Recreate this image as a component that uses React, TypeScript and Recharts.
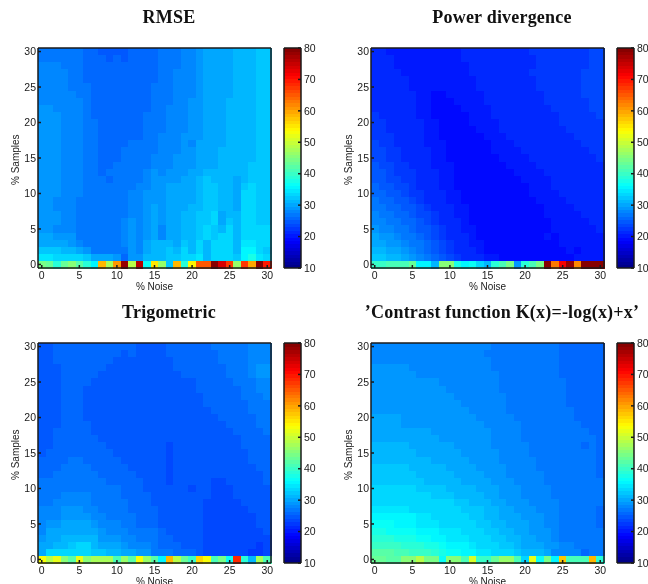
import { ScatterChart, Scatter, XAxis, YAxis } from "recharts";

const TICKS = [0, 5, 10, 15, 20, 25, 30];
const BAR_TICKS = [10, 20, 30, 40, 50, 60, 70, 80];
const FONT = "'Liberation Sans', Arial, sans-serif";
const INK = "#1a1a1a";

// one row per % Samples, from 30 down to 0; one value per % Noise, 0 to 30
const rmseRows = [
  [27,27,27,27,27,27,26,26,25,25,25,25,26,26,26,26,27,27,27,28,28,29,30,30,30,30,31,31,31,32,32],
  [27,27,27,27,27,27,26,26,26,25,26,25,26,26,26,26,27,27,27,28,28,29,30,30,30,30,31,31,31,32,32],
  [28,28,28,27,27,27,26,26,26,26,26,26,26,26,26,26,27,27,27,28,28,29,30,30,30,30,31,31,31,32,32],
  [28,28,28,28,27,27,26,26,26,26,26,26,26,26,26,26,27,27,28,28,28,29,30,30,30,30,31,31,31,32,32],
  [28,28,28,28,27,27,26,26,26,26,26,26,26,26,26,26,27,27,28,28,28,29,30,30,30,30,31,31,31,32,32],
  [28,28,28,28,27,27,27,26,26,26,26,26,26,26,26,27,27,27,28,28,28,29,30,30,30,30,31,31,31,32,32],
  [28,28,28,28,28,27,27,26,26,26,26,26,26,26,26,27,27,27,28,28,28,29,30,30,30,30,31,31,31,32,32],
  [28,28,28,28,28,28,27,26,26,26,26,26,26,26,26,27,27,27,28,28,29,29,30,30,30,31,31,31,31,32,32],
  [29,29,28,28,28,28,27,26,26,26,26,26,26,26,26,27,27,28,28,28,29,29,30,30,30,31,31,31,31,32,32],
  [29,29,29,28,28,28,27,26,26,26,26,26,26,26,27,27,27,28,28,28,29,29,30,30,30,31,31,31,31,32,32],
  [29,29,29,28,28,28,27,27,26,26,26,26,26,26,27,27,27,28,28,28,29,29,30,30,30,31,31,31,31,32,32],
  [29,29,29,28,28,28,27,27,26,26,26,26,26,26,27,27,27,28,28,28,29,29,30,30,30,31,31,31,31,32,32],
  [29,29,29,28,28,28,27,27,26,26,26,26,26,26,27,27,28,28,28,29,29,29,30,30,30,31,31,31,31,32,32],
  [29,29,29,28,28,28,27,27,26,26,26,26,27,27,27,27,28,28,28,29,28,30,30,30,30,31,31,31,31,32,32],
  [29,29,29,28,28,28,27,27,26,26,26,27,27,27,27,27,28,28,28,29,29,30,30,30,31,31,31,31,31,32,32],
  [29,29,29,28,28,28,27,27,26,26,26,27,27,27,27,28,28,28,29,29,29,30,30,30,31,31,31,31,31,32,32],
  [29,29,29,28,28,28,27,27,26,26,27,27,27,27,27,28,28,28,29,29,29,30,30,30,31,31,31,31,32,32,32],
  [29,29,29,28,28,28,27,27,26,27,27,27,27,27,28,29,28,29,29,29,30,30,31,31,31,31,31,31,32,32,32],
  [29,29,29,28,28,28,27,27,27,26,27,27,27,27,28,29,29,29,29,30,30,31,32,31,31,31,30,31,32,32,32],
  [29,29,29,28,28,28,27,27,27,27,27,27,27,28,28,29,29,30,30,30,30,31,32,32,31,31,30,32,33,32,32],
  [29,29,29,28,28,28,27,27,27,27,27,27,28,28,29,29,29,30,30,30,30,31,32,32,31,31,30,33,33,32,32],
  [29,29,28,28,28,27,27,27,27,27,27,27,28,28,29,29,29,30,30,30,30,31,32,32,31,31,30,33,33,32,32],
  [29,29,28,28,28,27,27,27,27,27,27,27,28,28,29,30,29,30,30,30,31,31,32,32,31,31,30,33,33,32,32],
  [29,29,29,28,28,27,27,27,27,27,27,27,28,28,29,30,29,30,30,31,31,32,32,33,30,31,31,33,33,32,32],
  [29,29,29,28,28,27,27,27,27,27,27,28,29,28,29,30,29,30,30,31,31,32,32,33,30,32,31,33,33,32,32],
  [29,29,28,28,28,27,27,27,27,27,27,28,29,28,29,30,28,30,30,31,31,32,33,32,31,33,31,33,33,33,33],
  [30,30,29,29,29,27,27,27,27,27,27,28,29,28,29,30,28,30,30,31,31,32,33,32,33,33,31,33,33,33,33],
  [30,30,30,30,29,28,27,27,27,27,27,28,29,28,30,31,31,31,30,32,31,33,31,33,33,33,31,35,35,33,33],
  [32,32,32,31,31,30,29,27,27,27,27,27,29,28,30,31,31,32,31,33,31,34,31,34,34,34,31,36,36,34,32],
  [35,35,34,33,33,33,32,30,30,30,29,26,29,29,31,31,31,32,32,34,33,35,31,34,34,34,32,36,38,35,33],
  [44,43,39,43,45,42,39,36,59,48,61,78,49,76,37,55,47,32,59,39,54,65,65,79,74,67,47,67,60,80,70],
];

const powerRows = [
  [21,21,20,20,20,20,20,20,20,20,20,20,21,21,21,21,22,22,22,22,22,23,23,23,23,23,23,23,23,24,24],
  [21,21,21,20,20,20,20,20,20,20,20,20,21,21,21,21,22,22,22,22,22,22,23,23,23,23,23,23,23,24,24],
  [21,21,21,20,20,20,20,20,20,20,20,20,20,21,21,21,22,22,22,22,22,22,23,23,23,23,23,23,23,24,24],
  [21,21,21,21,20,20,20,20,20,20,20,20,20,21,21,21,21,22,22,22,22,23,23,23,23,23,23,23,24,24,24],
  [21,21,21,21,21,20,20,20,20,20,20,20,20,20,21,21,21,21,22,22,22,22,23,23,23,23,23,23,24,24,24],
  [22,22,21,21,21,20,20,20,20,20,20,20,20,20,21,21,21,21,22,22,22,22,23,23,23,23,23,23,24,24,24],
  [22,22,22,21,21,21,20,20,19,19,20,20,20,20,20,21,21,21,21,22,22,22,22,23,23,23,23,23,24,24,24],
  [22,22,22,21,21,21,20,20,19,19,19,20,20,20,20,21,21,21,21,22,22,22,22,23,23,23,23,23,23,24,24],
  [22,22,22,22,21,21,20,20,19,19,19,19,20,20,20,20,21,21,21,21,22,22,22,22,23,23,23,23,23,24,24],
  [23,22,22,22,21,21,20,20,19,19,19,19,19,20,20,20,21,21,21,21,22,22,22,22,22,23,23,23,23,23,24],
  [23,23,22,22,22,21,21,20,20,19,19,19,19,20,20,20,20,21,21,21,21,22,22,22,22,23,23,23,23,23,23],
  [23,23,22,22,22,21,21,20,20,19,19,19,19,19,20,20,20,21,21,21,21,21,22,22,22,22,23,23,23,23,23],
  [23,23,23,22,22,22,21,20,20,19,19,19,19,19,19,20,20,20,21,21,21,21,22,22,22,22,22,23,23,23,23],
  [24,23,23,22,22,22,21,20,20,20,19,19,19,19,19,19,20,20,20,21,21,21,21,22,22,22,22,22,23,23,23],
  [24,24,23,23,22,22,21,21,20,20,19,19,19,19,19,19,20,20,20,20,21,21,21,22,22,22,22,22,22,23,23],
  [24,24,23,23,22,22,22,21,20,20,19,19,19,19,19,19,19,20,20,20,20,21,21,21,22,22,22,22,22,22,23],
  [25,24,24,23,23,22,22,21,20,20,20,19,19,19,19,19,19,19,20,20,20,20,21,21,21,22,22,22,22,22,22],
  [25,25,24,23,23,23,22,21,21,20,20,19,19,19,19,19,19,19,19,20,20,20,20,21,21,21,22,22,22,22,22],
  [25,25,24,24,23,23,22,21,21,20,20,19,19,19,19,19,19,19,19,19,20,20,20,20,21,21,21,22,22,22,22],
  [26,25,25,24,24,23,22,22,21,20,20,19,19,19,19,19,19,19,19,19,19,20,20,20,21,21,21,21,22,22,22],
  [26,26,25,25,24,23,23,22,21,21,20,20,19,19,19,19,19,19,19,19,19,20,20,20,20,21,21,21,21,22,22],
  [27,26,26,25,25,24,23,22,22,21,20,20,19,19,19,19,19,19,19,19,19,19,20,20,20,20,21,21,21,21,22],
  [27,27,26,26,25,25,24,23,22,21,21,20,20,19,19,19,19,19,19,19,19,19,19,20,20,20,20,21,21,21,21],
  [28,27,27,26,26,25,24,24,23,22,21,20,20,19,19,19,19,19,19,19,19,19,19,20,20,20,20,20,21,21,21],
  [28,28,27,27,26,26,25,24,23,22,21,21,20,19,19,19,19,19,19,19,19,19,19,19,20,20,20,20,20,21,21],
  [29,28,28,27,27,26,25,25,24,23,22,21,20,20,19,19,19,19,19,19,19,19,19,19,20,20,20,20,20,20,21],
  [30,29,29,28,27,27,26,25,24,23,22,22,21,20,19,19,19,19,19,19,19,19,19,20,19,20,20,20,20,20,20],
  [30,30,29,29,28,27,27,26,25,24,23,22,21,20,20,19,19,19,19,19,19,19,19,19,19,20,20,20,20,20,20],
  [31,31,30,30,29,28,27,26,25,24,23,22,22,21,20,19,19,19,19,19,19,19,19,19,19,19,20,19,20,20,20],
  [32,32,31,31,30,29,28,27,26,25,24,23,22,22,21,20,20,19,19,19,19,19,19,19,19,19,19,20,20,20,20],
  [40,40,41,41,41,43,36,36,31,45,45,38,36,37,34,31,39,41,44,29,39,41,44,79,63,72,78,62,80,80,80],
];

const trigRows = [
  [25,25,26,26,26,26,26,26,26,26,26,26,26,25,25,25,25,26,26,26,26,26,26,27,27,27,27,27,28,28,28],
  [25,25,26,26,26,26,26,26,26,26,26,25,26,25,25,25,25,26,26,26,26,26,26,26,27,27,27,27,28,28,28],
  [25,25,26,26,26,26,26,26,26,26,25,25,25,25,25,25,25,25,26,26,26,26,26,26,27,27,27,27,28,28,28],
  [25,25,25,26,26,26,26,26,26,25,25,25,25,25,25,25,25,25,26,26,26,26,26,26,26,27,27,27,28,29,29],
  [25,25,25,26,26,26,26,26,25,25,25,25,25,25,25,25,25,25,25,26,26,26,26,26,26,27,27,27,28,29,29],
  [25,25,25,26,26,26,26,25,25,25,25,25,25,25,25,25,25,25,25,25,25,26,26,26,26,26,27,27,27,28,28],
  [25,25,25,26,26,26,25,25,25,25,25,25,25,25,25,25,25,25,25,25,25,26,26,26,26,26,26,27,27,28,28],
  [25,25,25,26,26,26,25,25,25,25,25,25,25,25,25,25,25,25,25,25,25,25,26,26,26,26,26,27,27,27,28],
  [25,25,25,26,26,26,25,25,25,25,25,25,25,25,25,25,25,25,25,25,25,25,26,26,26,26,26,26,27,27,27],
  [25,25,25,26,26,26,25,25,25,25,25,25,25,25,25,25,25,25,25,25,25,25,25,26,26,26,26,26,27,27,27],
  [25,25,25,26,26,26,25,25,25,25,25,25,25,25,25,25,25,25,25,25,25,25,25,25,26,26,26,26,26,27,27],
  [25,25,25,26,26,26,26,25,25,25,25,25,25,25,25,25,25,25,25,25,25,25,25,25,25,26,26,26,26,27,27],
  [25,25,26,26,26,26,26,25,25,25,25,25,25,25,25,25,25,25,25,25,25,25,25,25,25,25,26,26,26,26,27],
  [25,25,26,26,26,26,26,26,25,25,25,25,25,25,25,25,25,25,25,25,25,25,25,25,25,25,25,26,26,26,26],
  [25,25,26,26,26,26,26,26,26,25,25,25,25,25,25,25,25,24,25,25,25,25,25,25,25,25,25,26,26,26,26],
  [25,26,26,26,26,26,26,26,26,26,25,25,25,25,25,25,25,24,25,25,25,25,25,25,25,25,25,25,26,26,26],
  [26,26,26,26,27,27,26,26,26,26,26,25,25,25,25,25,25,24,25,25,25,25,25,25,25,25,25,25,26,26,26],
  [26,26,26,27,27,27,27,26,26,26,26,26,25,25,25,25,25,24,25,25,25,25,25,25,25,25,25,25,25,26,26],
  [26,26,27,27,27,27,27,27,26,26,26,26,26,25,25,25,25,24,25,25,25,25,25,25,25,25,25,25,25,25,26],
  [27,27,27,27,27,27,27,27,27,26,26,26,26,26,25,25,25,24,25,25,25,25,25,24,24,25,25,25,25,25,26],
  [27,27,27,27,27,27,27,27,27,27,27,26,26,26,25,25,25,25,25,25,24,25,25,24,24,24,25,25,25,25,25],
  [27,27,27,28,28,28,28,27,27,27,27,26,26,26,26,25,25,25,25,25,25,25,25,24,24,24,25,25,25,25,25],
  [27,27,28,28,28,28,28,27,27,27,27,27,26,26,26,25,25,25,25,25,25,25,24,24,24,24,24,25,25,25,25],
  [28,28,28,29,29,29,28,28,27,27,27,27,26,26,26,26,25,25,25,25,25,25,24,24,24,24,24,24,25,25,25],
  [28,28,28,29,29,29,29,28,28,27,27,27,27,26,26,26,25,25,25,25,25,25,24,24,24,24,24,24,24,25,25],
  [28,29,29,30,30,30,30,29,28,28,28,27,27,26,26,26,25,25,25,25,25,25,24,24,24,24,24,24,24,25,25],
  [28,30,30,30,30,30,30,30,29,28,28,28,27,27,27,27,26,25,25,25,25,25,24,24,24,24,24,24,24,24,25],
  [29,30,30,31,31,31,31,31,29,29,29,28,28,27,27,27,26,26,25,25,25,25,24,24,24,24,24,24,24,24,24],
  [30,30,31,31,32,33,33,31,30,30,30,29,28,28,28,27,26,26,26,25,25,25,24,24,24,24,24,24,24,23,24],
  [30,33,33,34,34,34,34,32,32,31,31,30,30,29,29,27,27,27,26,26,26,25,24,24,24,24,24,24,23,23,24],
  [53,49,52,46,42,52,46,48,48,48,41,47,42,53,47,42,36,59,49,43,40,57,53,41,44,37,68,39,31,48,41],
];

const contrastRows = [
  [28,28,28,28,28,28,28,28,28,28,28,28,28,28,28,28,27,27,27,27,27,27,27,27,27,26,26,26,26,26,26],
  [28,28,28,28,28,28,28,28,28,28,28,28,28,28,28,27,27,27,27,27,27,27,27,27,27,26,26,26,26,26,26],
  [28,28,28,28,28,28,28,28,28,28,28,28,28,28,28,28,27,27,27,27,27,27,27,27,27,26,26,26,26,26,26],
  [29,29,29,29,29,28,28,28,28,28,28,28,28,28,28,28,27,27,27,27,27,27,27,27,27,26,26,26,26,26,26],
  [29,29,29,29,29,29,28,28,28,28,28,28,28,28,28,28,28,27,27,27,27,27,27,27,27,26,26,26,26,26,26],
  [29,29,29,29,29,29,29,29,29,28,28,28,28,28,28,28,28,27,27,27,27,27,27,27,27,27,26,26,26,26,26],
  [29,29,29,29,29,29,29,29,29,29,28,28,28,28,28,28,28,27,27,27,27,27,27,27,27,27,26,26,26,26,26],
  [29,29,29,29,29,29,29,29,29,29,29,28,28,28,28,28,28,28,27,27,27,27,27,27,27,27,26,26,26,26,26],
  [29,29,29,29,29,29,29,29,29,29,29,29,28,28,28,28,28,28,27,27,27,27,27,27,27,27,26,26,26,26,26],
  [29,29,29,29,29,29,29,29,29,29,29,29,29,28,28,28,28,28,27,27,27,27,27,27,27,27,27,26,26,26,26],
  [30,30,30,30,29,29,29,29,29,29,29,29,29,29,28,28,28,28,28,27,27,27,27,27,27,27,27,26,26,26,26],
  [30,30,30,30,29,29,29,29,29,29,29,29,29,29,29,28,28,28,28,28,27,27,27,27,27,27,27,27,26,26,26],
  [30,30,30,30,30,30,30,30,29,29,29,29,29,29,29,29,28,28,28,28,27,27,27,27,27,27,27,27,27,26,26],
  [30,30,30,30,30,30,30,30,30,29,29,29,29,29,29,29,28,28,28,28,27,27,27,27,27,27,27,27,27,27,26],
  [31,31,31,31,31,30,30,30,30,30,30,29,29,29,29,29,28,28,28,28,28,27,27,27,27,27,27,27,26,27,26],
  [31,31,31,31,31,31,30,30,30,30,30,30,29,29,29,29,29,28,28,28,28,27,27,27,27,27,27,27,27,27,26],
  [31,31,31,31,31,31,31,31,30,30,30,30,30,29,29,29,29,28,28,28,28,28,27,27,27,27,27,27,27,27,26],
  [32,32,32,32,32,31,31,31,31,31,30,30,30,30,29,29,29,29,28,28,28,28,27,27,27,27,27,27,27,27,26],
  [32,32,32,32,32,32,31,31,31,31,31,30,30,30,30,29,29,29,28,28,28,28,28,27,27,27,27,27,27,27,26],
  [32,32,32,32,32,32,32,31,31,31,31,31,30,30,30,30,29,29,29,28,28,28,28,27,27,27,27,27,27,27,27],
  [33,33,33,33,33,33,32,32,32,32,31,31,31,31,30,30,30,29,29,29,28,28,28,28,27,27,27,27,27,27,27],
  [33,33,33,33,33,33,33,33,32,32,32,31,31,31,31,30,30,29,29,29,28,28,28,28,27,27,27,27,27,27,27],
  [34,34,34,34,34,34,33,33,33,33,33,32,32,31,31,31,30,30,29,29,29,28,28,28,28,27,27,27,27,27,27],
  [35,35,35,35,35,34,34,34,33,33,33,33,32,32,32,31,31,30,30,29,29,29,28,28,28,27,27,27,27,27,26],
  [36,36,36,36,36,36,35,35,34,34,33,33,33,32,32,31,31,30,30,30,29,29,29,28,28,27,27,27,27,27,26],
  [37,37,37,36,36,36,35,35,35,34,34,34,33,33,32,32,31,31,30,30,30,29,29,28,28,27,27,27,27,27,26],
  [38,38,37,37,37,37,36,36,36,35,35,35,34,33,33,32,32,31,31,30,30,29,29,29,28,27,27,27,27,27,27],
  [39,39,39,38,38,38,37,37,36,36,35,35,35,34,33,33,32,32,31,31,30,30,29,29,28,27,27,27,27,27,27],
  [40,40,40,40,39,39,39,38,38,37,36,36,36,35,34,33,33,32,32,31,30,30,30,29,29,28,28,27,27,27,27],
  [42,42,42,41,41,40,40,40,39,38,37,37,36,36,35,35,34,33,33,32,31,31,31,30,28,28,28,28,26,27,27],
  [43,43,42,42,45,46,49,44,44,37,46,46,41,51,40,40,43,47,47,41,33,52,37,44,36,58,41,41,41,59,39],
];

// 64 colour steps of the bar, low to high
const barLevels = [
  10.55, 11.64, 12.73, 13.83, 14.92, 16.02, 17.11, 18.2, 19.3, 20.39, 21.48, 22.58, 23.67, 24.77, 25.86, 26.95,
  28.05, 29.14, 30.23, 31.33, 32.42, 33.52, 34.61, 35.7, 36.8, 37.89, 38.98, 40.08, 41.17, 42.27, 43.36, 44.45,
  45.55, 46.64, 47.73, 48.83, 49.92, 51.02, 52.11, 53.2, 54.3, 55.39, 56.48, 57.58, 58.67, 59.77, 60.86, 61.95,
  63.05, 64.14, 65.23, 66.33, 67.42, 68.52, 69.61, 70.7, 71.8, 72.89, 73.98, 75.08, 76.17, 77.27, 78.36, 79.45,
];

function jet(v: number) {
  const step = Math.min(63, Math.max(0, Math.floor(((v - 10) / 70) * 64)));
  const f = (step + 0.5) / 64;
  const ch = (c: number) => Math.round(255 * Math.min(1, Math.max(0, 1.5 - Math.abs(4 * f - c))));
  return `rgb(${ch(3)},${ch(2)},${ch(1)})`;
}

const PLOT_W = 233;
const PLOT_H = 220;
const BAR_W = 17;

function gridPoints(rows: number[][]) {
  return rows.flatMap((row, r) =>
    row.map((v, c) => ({ x: c, y: rows.length - 1 - r, v }))
  );
}

function HeatCell(props: any) {
  const w = PLOT_W / 31;
  const h = PLOT_H / 31;
  return (
    <rect
      x={props.cx - w / 2}
      y={props.cy - h / 2}
      width={w + 0.5}
      height={h + 0.5}
      fill={jet(props.payload.v)}
      shapeRendering="crispEdges"
    />
  );
}

function BarCell(props: any) {
  const h = PLOT_H / 64;
  return (
    <rect
      x={props.cx - BAR_W / 2}
      y={props.cy - h / 2}
      width={BAR_W}
      height={h + 0.5}
      fill={jet(props.payload.v)}
      shapeRendering="crispEdges"
    />
  );
}

const NoMark = () => null;

const tickStyle = { fontSize: 10.5, fill: INK, fontFamily: FONT };
const labelStyle = { fontSize: 10, fill: INK, fontFamily: FONT };
const lineStyle = { stroke: INK, strokeWidth: 1.5 };
const layer = { position: "absolute", left: 0, top: 0 } as const;

function Panel({ left, top, title, rows }: { left: number; top: number; title: string; rows: number[][] }) {
  const anchor = [{ x: 0, y: 0 }];
  const barAnchor = [{ x: 0, y: 10 }];
  return (
    <div style={{ position: "absolute", left, top, width: 320, height: 296 }}>
      <div
        style={{
          position: "absolute",
          left: 0,
          width: 338,
          top: 7,
          textAlign: "center",
          fontFamily: "'Liberation Serif', serif",
          fontWeight: "bold",
          fontSize: 18,
          letterSpacing: 0.2,
          color: "#111",
          whiteSpace: "nowrap",
        }}
      >
        {title}
      </div>
      {/* cells underneath, frame and ticks drawn over them in a second chart */}
      <div style={layer}>
        <ScatterChart width={308} height={296} margin={{ top: 48, right: 37, bottom: 28, left: 38 }}>
          <XAxis dataKey="x" type="number" domain={[-0.5, 30.5]} hide />
          <YAxis dataKey="y" type="number" domain={[-0.5, 30.5]} hide />
          <Scatter data={gridPoints(rows)} shape={<HeatCell />} isAnimationActive={false} />
        </ScatterChart>
      </div>
      <div style={layer}>
        <ScatterChart width={308} height={296} margin={{ top: 47, right: 0, bottom: 0, left: 0 }}>
          <XAxis
            dataKey="x"
            type="number"
            domain={[-0.5, 30.5]}
            ticks={TICKS}
            interval={0}
            height={28}
            tickSize={-3}
            tickMargin={7}
            tick={tickStyle}
            axisLine={lineStyle}
            tickLine={lineStyle}
            label={{ value: "% Noise", position: "insideBottom", offset: 6, ...labelStyle }}
          />
          <XAxis xAxisId="top" dataKey="x" orientation="top" type="number" domain={[-0.5, 30.5]} ticks={TICKS} interval={0} height={1} tickSize={-3} tick={false} axisLine={lineStyle} tickLine={lineStyle} />
          <YAxis
            dataKey="y"
            type="number"
            domain={[-0.5, 30.5]}
            ticks={TICKS}
            interval={0}
            width={38}
            tickSize={-3}
            tickMargin={5}
            tick={tickStyle}
            axisLine={lineStyle}
            tickLine={lineStyle}
            label={{ value: "% Samples", angle: -90, position: "insideLeft", offset: 15, dy: 27, ...labelStyle }}
          />
          <YAxis yAxisId="right" dataKey="y" orientation="right" type="number" domain={[-0.5, 30.5]} ticks={TICKS} interval={0} width={37} tickSize={-3} tick={false} axisLine={lineStyle} tickLine={lineStyle} />
          <Scatter data={anchor} shape={<NoMark />} isAnimationActive={false} />
          <Scatter xAxisId="top" yAxisId="right" data={anchor} shape={<NoMark />} isAnimationActive={false} />
        </ScatterChart>
      </div>
      <div style={{ ...layer, left: 284 }}>
        <ScatterChart width={36} height={296} margin={{ top: 48, right: 19, bottom: 28, left: 0 }}>
          <XAxis dataKey="x" type="number" domain={[0, 1]} hide />
          <YAxis dataKey="y" type="number" domain={[10, 80]} hide />
          <Scatter data={barLevels.map((v) => ({ x: 0.5, y: v, v }))} shape={<BarCell />} isAnimationActive={false} />
        </ScatterChart>
      </div>
      <div style={{ ...layer, left: 283 }}>
        <ScatterChart width={37} height={296} margin={{ top: 47, right: 0, bottom: 27, left: 0 }}>
          <XAxis dataKey="x" type="number" domain={[0, 1]} ticks={[0, 1]} height={1} tick={false} tickLine={false} axisLine={lineStyle} />
          <XAxis xAxisId="top" dataKey="x" orientation="top" type="number" domain={[0, 1]} ticks={[0, 1]} height={1} tick={false} tickLine={false} axisLine={lineStyle} />
          <YAxis yAxisId="left" dataKey="y" width={1} type="number" domain={[10, 80]} ticks={BAR_TICKS} interval={0} tickSize={-3} tick={false} axisLine={lineStyle} tickLine={lineStyle} />
          <YAxis dataKey="y" orientation="right" type="number" domain={[10, 80]} ticks={BAR_TICKS} interval={0} width={19} tickSize={-3} tickMargin={6} tick={tickStyle} axisLine={lineStyle} tickLine={lineStyle} />
          <Scatter data={barAnchor} shape={<NoMark />} isAnimationActive={false} />
          <Scatter xAxisId="top" yAxisId="left" data={barAnchor} shape={<NoMark />} isAnimationActive={false} />
        </ScatterChart>
      </div>
    </div>
  );
}

export default function App() {
  return (
    <div style={{ position: "absolute", left: 0, top: 0, width: 648, height: 584, overflow: "hidden", background: "#fff", filter: "blur(0.4px)" }}>
      <Panel left={0} top={0} title="RMSE" rows={rmseRows} />
      <Panel left={333} top={0} title="Power divergence" rows={powerRows} />
      <Panel left={0} top={295} title="Trigometric" rows={trigRows} />
      <Panel left={333} top={295} title="’Contrast function K(x)=-log(x)+x’" rows={contrastRows} />
    </div>
  );
}
